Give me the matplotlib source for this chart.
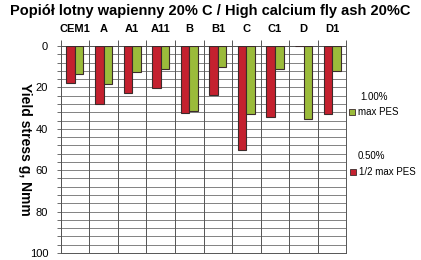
import numpy as np
import matplotlib as mpl
mpl.use('Agg')
import matplotlib.pyplot as plt
from matplotlib.patches import Rectangle

# values (yield stress g, Nmm)
categories = ["CEM1", "A", "A1", "A11", "B", "B1", "C", "C1", "D", "D1"]
half_pes = [17.7, 28.2, 22.9, 20.4, 32.5, 23.8, 50.2, 34.1, 0.0, 32.9]
max_pes = [13.7, 18.5, 12.7, 11.3, 31.4, 10.3, 32.9, 11.3, 35.4, 11.9]
yticks = [0, 20, 40, 60, 80, 100]

red = '#c4212f'
green = '#9bbb3b'
edge = '#3b2b2b'

plt.rcParams['font.family'] = ['Liberation Sans', 'DejaVu Sans']

fig = plt.figure(figsize=(4.21, 2.60), dpi=100)
ax = fig.add_axes([0.144, 0.027, 0.679, 0.796])

x = np.arange(len(categories))
w = 0.3
ax.bar(x - w / 2, half_pes, w, color=red, edgecolor=edge, linewidth=0.8, zorder=3)
ax.bar(x + w / 2, max_pes, w, color=green, edgecolor=edge, linewidth=0.8, zorder=3)

ax.set_xlim(-0.5, len(categories) - 0.5)
ax.set_ylim(100, 0)

# horizontal grid every 4, labels every 20
ax.set_yticks(yticks)
ax.set_yticks(np.arange(0, 101, 4), minor=True)
ax.tick_params(axis='y', which='both', direction='out', length=3, width=0.6,
               color='#555555', labelsize=8, pad=6)
for v in np.arange(0, 101, 4):
    ax.axhline(v, color='#6e6e6e', lw=0.6, zorder=1)
for b in np.arange(-0.5, len(categories), 1.0):
    ax.axvline(b, color='#555555', lw=0.7, zorder=1)

ax.xaxis.tick_top()
ax.set_xticks(x)
ax.set_xticklabels(categories, fontsize=8, fontweight='bold')
ax.set_xticks(np.arange(-0.5, len(categories), 1.0), minor=True)
ax.tick_params(axis='x', which='major', length=0, pad=9)
ax.tick_params(axis='x', which='minor', direction='out', length=4, width=0.7, color='#555555')

for s in ax.spines.values():
    s.set_color('#555555')
    s.set_linewidth(0.7)

ax.set_ylabel('Yield stress g, Nmm', fontsize=10, fontweight='bold', rotation=270,
              labelpad=14)
ax.yaxis.set_label_coords(-0.15, 0.5)

fig.text(0.5, 0.958, 'Popiół lotny wapienny 20% C / High calcium fly ash 20%C',
         ha='center', va='center', fontsize=10.5, fontweight='bold')

# legend drawn by hand to follow the reference layout
fig.patches.append(Rectangle((349 / 421, 1 - 115 / 260), 6 / 421, 6 / 260,
                             transform=fig.transFigure, facecolor=green, edgecolor=edge, lw=0.6))
fig.text(358 / 421, 1 - 112 / 260, 'max PES', fontsize=7, va='center', ha='left')
fig.text(360 / 421, 1 - 97 / 260, '1.00%', fontsize=7, va='center', ha='left')
fig.patches.append(Rectangle((350 / 421, 1 - 175 / 260), 6 / 421, 6 / 260,
                             transform=fig.transFigure, facecolor=red, edgecolor=edge, lw=0.6))
fig.text(359 / 421, 1 - 172 / 260, '1/2 max PES', fontsize=7, va='center', ha='left')
fig.text(358 / 421, 1 - 156 / 260, '0.50%', fontsize=7, va='center', ha='left')

fig.savefig('out.png', dpi=100)
